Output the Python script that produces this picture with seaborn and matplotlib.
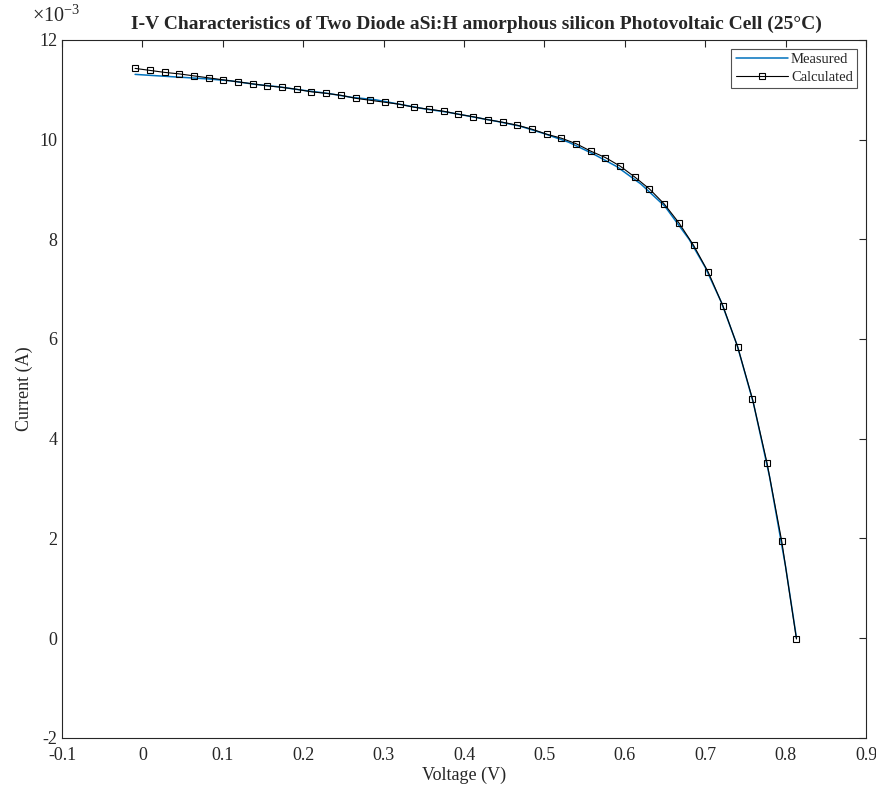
import matplotlib
matplotlib.use('Agg')
import matplotlib.pyplot as plt
import seaborn as sns
import numpy as np
import pandas as pd
from matplotlib.ticker import FuncFormatter

'''Data read off the reference (voltage in V, current in mA)'''
calc_voltage = [-0.0091, 0.0092, 0.0275, 0.0457, 0.0640, 0.0823, 0.1006, 0.1189, 0.1371, 0.1554,
                0.1737, 0.1920, 0.2103, 0.2285, 0.2468, 0.2651, 0.2834, 0.3017, 0.3199, 0.3382,
                0.3565, 0.3748, 0.3931, 0.4113, 0.4296, 0.4479, 0.4662, 0.4845, 0.5027, 0.5210,
                0.5393, 0.5576, 0.5759, 0.5941, 0.6124, 0.6307, 0.6490, 0.6673, 0.6855, 0.7038,
                0.7221, 0.7404, 0.7587, 0.7769, 0.7952, 0.8135]
calc_current_mA = [11.43, 11.39, 11.35, 11.32, 11.28, 11.24, 11.20, 11.16, 11.12, 11.08,
                   11.05, 11.01, 10.96, 10.93, 10.89, 10.83, 10.79, 10.75, 10.71, 10.65,
                   10.61, 10.57, 10.51, 10.46, 10.40, 10.35, 10.29, 10.21, 10.11, 10.03,
                   9.92, 9.77, 9.64, 9.47, 9.25, 9.01, 8.71, 8.33, 7.88, 7.34,
                   6.66, 5.84, 4.80, 3.51, 1.94, -0.02]

meas_voltage = [-0.0091, 0.02, 0.05, 0.08, 0.11, 0.14, 0.17, 0.20, 0.23, 0.26,
                0.29, 0.32, 0.35, 0.38, 0.41, 0.44, 0.47, 0.50, 0.53, 0.56,
                0.59, 0.62, 0.65, 0.68, 0.70, 0.72, 0.74, 0.76, 0.78, 0.80, 0.8135]
meas_current_mA = [11.31, 11.28, 11.25, 11.22, 11.18, 11.11, 11.06, 10.99, 10.93, 10.85,
                   10.80, 10.71, 10.62, 10.55, 10.46, 10.37, 10.27, 10.12, 9.95, 9.72,
                   9.46, 9.11, 8.66, 8.00, 7.44, 6.74, 5.86, 4.71, 3.24, 1.43, 0.0]

measured = pd.DataFrame({'V': meas_voltage, 'I': np.array(meas_current_mA) * 1e-3})
calculated = pd.DataFrame({'V': calc_voltage, 'I': np.array(calc_current_mA) * 1e-3})

'''Style'''
sns.set_style('white')
plt.rcParams['font.family'] = ['Liberation Serif', 'DejaVu Serif']
plt.rcParams['mathtext.fontset'] = 'custom'
plt.rcParams['mathtext.rm'] = 'Liberation Serif'
plt.rcParams['axes.unicode_minus'] = False
dark = '#262626'

fig = plt.figure(figsize=(8.76, 7.95), dpi=100)
ax = fig.add_axes([0.0708, 0.0721, 0.9178, 0.8776])

sns.lineplot(data=measured, x='V', y='I', sort=False, estimator=None, ax=ax,
             color='#0072BD', linewidth=1.1, label='Measured')
sns.lineplot(data=calculated, x='V', y='I', sort=False, estimator=None, ax=ax,
             color='black', linewidth=0.8, marker='s', markersize=4.8,
             markerfacecolor='none', markeredgecolor='black', markeredgewidth=0.8,
             label='Calculated')

ax.set_xlim(-0.1, 0.9)
ax.set_ylim(-2e-3, 12e-3)
ax.set_xticks(np.arange(-0.1, 0.91, 0.1))
ax.set_yticks(np.arange(-2e-3, 12.1e-3, 2e-3))
ax.xaxis.set_major_formatter(FuncFormatter(lambda v, p: f'{round(v, 2):g}'))
ax.yaxis.set_major_formatter(FuncFormatter(lambda v, p: f'{round(v * 1e3, 1):g}'))

# MATLAB style exponent above the y axis
ax.text(-0.037, 1.026, r'$\times10^{-3}$', transform=ax.transAxes,
        ha='left', va='baseline', fontsize=14.5, color=dark)

ax.tick_params(direction='in', length=5, width=0.8, colors=dark, labelsize=13,
               top=True, right=True, labelcolor=dark)
ax.tick_params(axis='x', pad=7)
for s in ax.spines.values():
    s.set_color(dark)
    s.set_linewidth(0.8)

ax.set_xlabel('Voltage (V)', fontsize=13, color=dark, labelpad=2)
ax.set_ylabel('Current (A)', fontsize=13, color=dark, labelpad=4)
ax.set_title('I-V Characteristics of Two Diode aSi:H amorphous silicon Photovoltaic Cell (25°C)',
             fontsize=14, fontweight='bold', pad=8, x=0.515)

leg = ax.legend(loc='upper right', fontsize=10.5, frameon=True, fancybox=False,
                edgecolor=dark, handlelength=3.6, borderpad=0.3,
                labelspacing=0.3, handletextpad=0.2, borderaxespad=0.6)
leg.get_frame().set_linewidth(0.8)

fig.savefig('out.png', dpi=100)
